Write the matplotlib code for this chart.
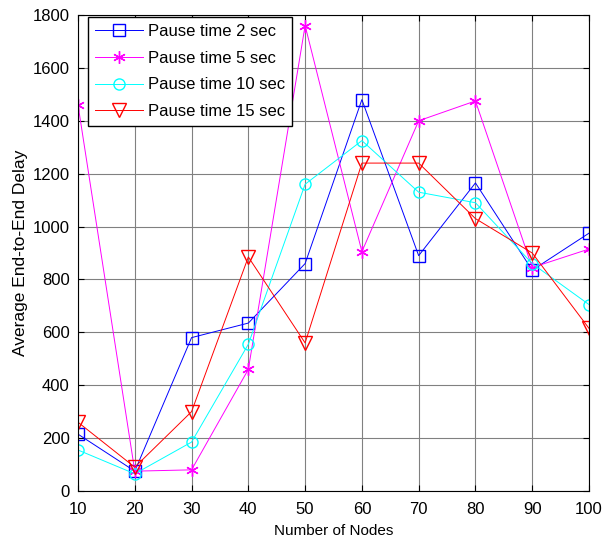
import matplotlib
matplotlib.use("Agg")
import matplotlib.pyplot as plt

plt.rcParams['font.family'] = ['Liberation Sans', 'DejaVu Sans']

nodes = [10, 20, 30, 40, 50, 60, 70, 80, 90, 100]
pause2 = [215, 75, 580, 635, 860, 1480, 890, 1165, 835, 975]
pause5 = [1460, 75, 80, 460, 1760, 905, 1400, 1475, 845, 915]
pause10 = [155, 65, 185, 555, 1160, 1325, 1130, 1090, 860, 705]
pause15 = [260, 90, 300, 885, 560, 1240, 1240, 1030, 900, 615]
labels = ["Pause time 2 sec", "Pause time 5 sec", "Pause time 10 sec", "Pause time 15 sec"]

fig = plt.figure(figsize=(6.08, 5.42), dpi=100)
ax = fig.add_axes([78/608, 1-491/542, (589-78)/608, (491-15)/542])

lw = 0.7
ax.plot(nodes, pause2, color='#0000ff', marker='s', markersize=8, markerfacecolor='none', lw=lw, mew=1.0, label=labels[0])
ax.plot(nodes, pause5, color='#ff00ff', marker=(6, 2, 0), markersize=9, markerfacecolor='none', lw=lw, mew=1.0, label=labels[1])
ax.plot(nodes, pause10, color='#00ffff', marker='o', markersize=8, markerfacecolor='none', lw=lw, mew=1.0, label=labels[2])
ax.plot(nodes, pause15, color='#ff0000', marker='v', markersize=10, markerfacecolor='none', lw=lw, mew=1.0, label=labels[3])

ax.set_xlim(10, 100)
ax.set_ylim(0, 1800)
ax.set_xticks(nodes)
ax.set_yticks(range(0, 1801, 200))
ax.grid(True, color='#808080', lw=0.8)
ax.tick_params(direction='in', top=True, right=True, labelsize=12, length=4)
ax.tick_params(axis='x', pad=8)
ax.tick_params(axis='y', pad=6)
ax.set_xlabel("Number of Nodes", fontsize=11, labelpad=5)
ax.set_ylabel("Average End-to-End Delay", fontsize=12.5, labelpad=3)
for s in ax.spines.values():
    s.set_color('black')

leg = ax.legend(loc='upper left', fontsize=12, fancybox=False, framealpha=1,
                edgecolor='black', bbox_to_anchor=(0.02, 0.995), borderaxespad=0.0,
                handlelength=2.9, labelspacing=0.7, handletextpad=0.3)
leg.get_frame().set_linewidth(1.0)

fig.savefig("out.png", dpi=100)
